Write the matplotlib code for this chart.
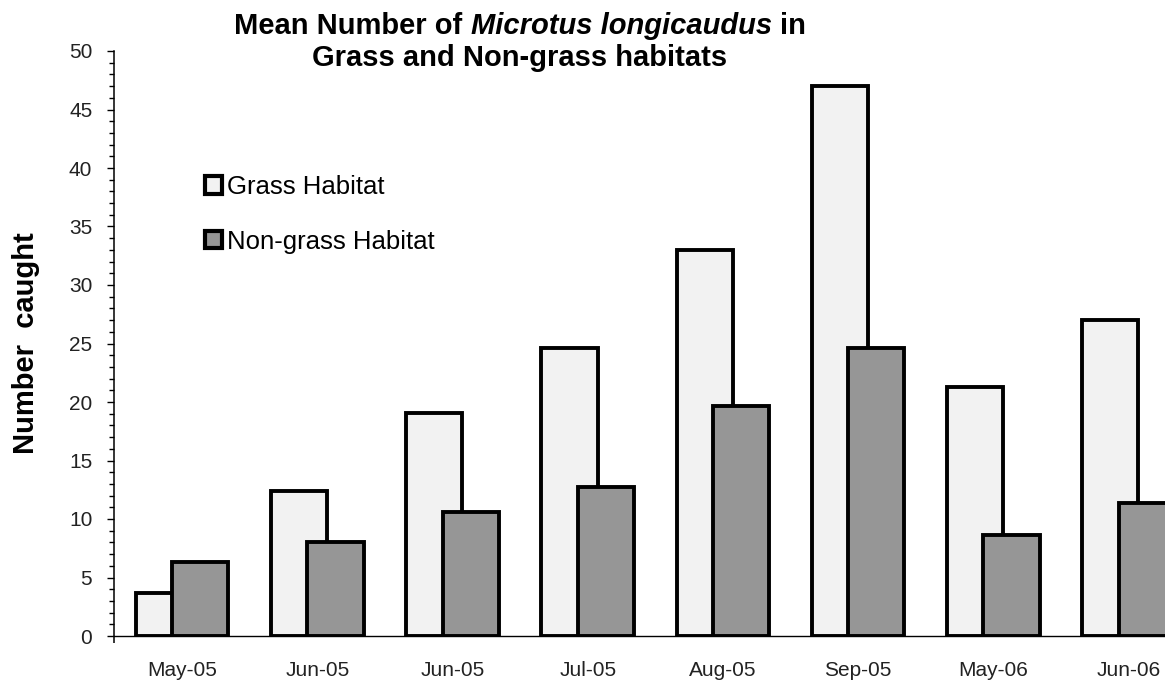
import matplotlib
matplotlib.use("Agg")
import matplotlib.pyplot as plt
import numpy as np
from matplotlib.ticker import MultipleLocator

# --- data ---
months = ["May-05", "Jun-05", "Jun-05", "Jul-05", "Aug-05", "Sep-05", "May-06", "Jun-06"]
grass = [3.7, 12.4, 19.1, 24.6, 33.0, 47.0, 21.3, 27.0]
non_grass = [6.35, 8.0, 10.6, 12.7, 19.7, 24.6, 8.6, 11.4]
series_names = ["Grass Habitat", "Non-grass Habitat"]

plt.rcParams["font.family"] = ["Liberation Sans", "DejaVu Sans"]

W, H = 1165, 684
fig = plt.figure(figsize=(W / 100, H / 100), dpi=100)
fig.patch.set_facecolor("white")

# axes placed in pixel terms, the right end runs past the canvas like the source
left, bottom = 114.5 / W, 1 - 636 / H
ax = fig.add_axes([left, bottom, 1081.6 / W, (636 - 51) / H])

x = np.arange(len(months))
bar_w = 0.415
ax.bar(x - 0.135, grass, bar_w, color="#f2f2f2", edgecolor="black",
       linewidth=2.8, label=series_names[0], zorder=2)
ax.bar(x + 0.135, non_grass, bar_w, color="#969696", edgecolor="black",
       linewidth=2.8, label=series_names[1], zorder=3)

ax.set_xlim(-0.5, len(months) - 0.5)
ax.set_ylim(0, 50)

ax.spines["top"].set_visible(False)
ax.spines["right"].set_visible(False)
ax.spines["left"].set_linewidth(1.1)
ax.spines["bottom"].set_linewidth(1.0)

ax.yaxis.set_major_locator(MultipleLocator(5))
ax.yaxis.set_minor_locator(MultipleLocator(1))
ax.tick_params(axis="y", which="major", length=5, width=1, pad=11,
               labelsize=15, labelcolor="#222222")
ax.tick_params(axis="y", which="minor", length=3.5, width=1)

ax.set_xticks(x)
ax.set_xticklabels(months)
ax.set_xticks([-0.5], minor=True)
ax.tick_params(axis="x", which="major", length=0, pad=18,
               labelsize=15, labelcolor="#222222")
ax.tick_params(axis="x", which="minor", length=5, width=1.1)

leg = ax.legend(loc="upper left", bbox_to_anchor=(205 / W, 1 - 175 / H),
                bbox_transform=fig.transFigure, frameon=False, fontsize=18.5,
                borderpad=0, borderaxespad=0, handlelength=0.66,
                handleheight=0.66, handletextpad=0.2, labelspacing=1.2)
for h in leg.legend_handles:
    h.set_linewidth(3)

fig.text(26 / W, 1 - 343 / H, "Number  caught", rotation=90, ha="center",
         va="center", fontsize=21, fontweight="bold")

# title: first line mixes bold and bold-italic runs
fig.canvas.draw()
renderer = fig.canvas.get_renderer()
title_size = 21
title_cx = 520
runs = [("Mean Number of", "normal"), ("Microtus longicaudus", "italic"), ("in", "normal")]
texts = [fig.text(0, 1 - 34 / H, s, fontsize=title_size, fontweight="bold",
                  style=st, va="baseline", ha="left") for s, st in runs]
probe = fig.text(0, 0, "a a", fontsize=title_size, fontweight="bold")
probe2 = fig.text(0, 0, "aa", fontsize=title_size, fontweight="bold")
space = probe.get_window_extent(renderer).width - probe2.get_window_extent(renderer).width
probe.remove()
probe2.remove()
widths = [t.get_window_extent(renderer).width for t in texts]
total = sum(widths) + space * (len(texts) - 1)
xpos = title_cx - total / 2
for t, w in zip(texts, widths):
    t.set_x(xpos / W)
    xpos += w + space
fig.text(title_cx / W, 1 - 66 / H, "Grass and Non-grass habitats", fontsize=title_size,
         fontweight="bold", ha="center", va="baseline")

fig.savefig("out.png", dpi=100, facecolor="white")
